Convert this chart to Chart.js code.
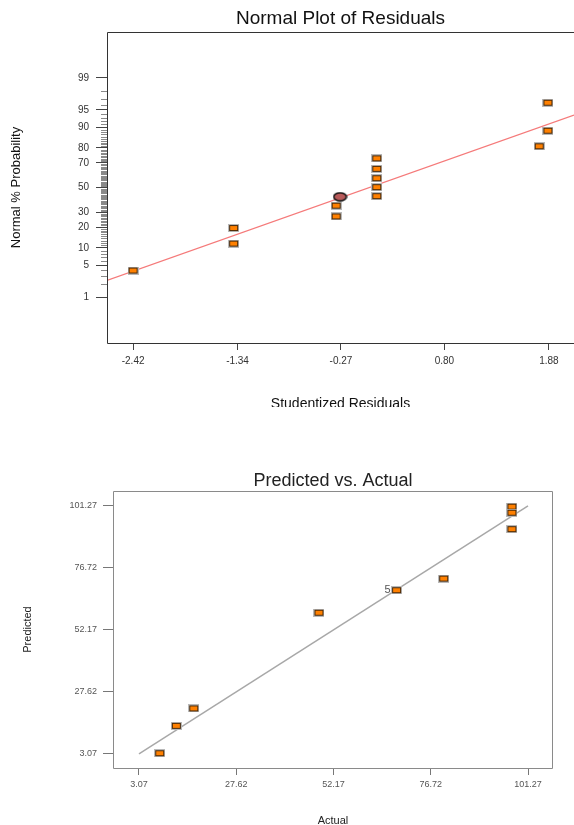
<!DOCTYPE html>
<html>
<head>
<meta charset="utf-8">
<script src="https://cdn.jsdelivr.net/npm/chart.js@4.4.1/dist/chart.umd.min.js"></script>
<style>
  body { margin: 0; background: #fff; width: 574px; height: 825px; position: relative; overflow: hidden; }
  .box { position: absolute; left: 0; width: 574px; overflow: hidden; }
  #topBox { top: 0; height: 407px; }
  #bottomBox { top: 420px; height: 405px; }
</style>
</head>
<body>
<div class="box" id="topBox"><canvas id="normalPlot" width="574" height="420"></canvas></div>
<div class="box" id="bottomBox"><canvas id="predPlot" width="574" height="420"></canvas></div>
<script>
// normal plot of residuals
const residuals = [-2.42, -1.38, -1.38, -0.32, -0.32, 0.10, 0.10, 0.10, 0.10, 0.10, 1.78, 1.87, 1.87];
const normalProb = [3.9, 11.7, 19.5, 27.0, 35.0, 42.7, 50.3, 57.8, 65.4, 73.2, 80.9, 88.6, 96.4];
const markedResidual = [-0.28];
const markedProb = [42.2];
const fitResidual = [-2.69, 2.14];
const fitProb = [2.42, 93.8];
const probTicks = [1, 5, 10, 20, 30, 50, 70, 80, 90, 95, 99];
const residualTicks = [-2.42, -1.34, -0.27, 0.80, 1.88];

// predicted vs actual
const actual = [8.3, 12.5, 16.9, 48.5, 68.1, 80.0, 97.2, 97.2, 97.2];
const predicted = [3.35, 14.2, 21.1, 59.0, 67.9, 72.5, 101.0, 98.6, 92.1];
const pointCounts = [1, 1, 1, 1, 5, 1, 1, 1, 1];
const fitActual = [3.07, 101.27];
const fitPredicted = [3.07, 101.27];
const pvaTicks = [3.07, 27.62, 52.17, 76.72, 101.27];

const FONT = "'Liberation Sans', Arial, sans-serif";

// inverse normal cdf (Acklam)
function probit(pct) {
  const p = pct / 100;
  const a = [-39.69683028665376, 220.9460984245205, -275.9285104469687, 138.357751867269, -30.66479806614716, 2.506628277459239];
  const b = [-54.47609879822406, 161.5858368580409, -155.6989798598866, 66.80131188771972, -13.28068155288572];
  const c = [-0.007784894002430293, -0.3223964580411365, -2.400758277161838, -2.549732539343734, 4.374664141464968, 2.938163982698783];
  const d = [0.007784695709041462, 0.3224671290700398, 2.445134137142996, 3.754408661907416];
  const lo = 0.02425;
  if (p < lo || p > 1 - lo) {
    const q = Math.sqrt(-2 * Math.log(p < lo ? p : 1 - p));
    const v = (((((c[0] * q + c[1]) * q + c[2]) * q + c[3]) * q + c[4]) * q + c[5]) /
      ((((d[0] * q + d[1]) * q + d[2]) * q + d[3]) * q + 1);
    return p < lo ? v : -v;
  }
  const q = p - 0.5, r = q * q;
  return (((((a[0] * r + a[1]) * r + a[2]) * r + a[3]) * r + a[4]) * r + a[5]) * q /
    (((((b[0] * r + b[1]) * r + b[2]) * r + b[3]) * r + b[4]) * r + 1);
}

function rectMarker() {
  const c = document.createElement("canvas");
  c.width = 11; c.height = 8;
  const g = c.getContext("2d");
  g.fillStyle = "#b8b8b8"; g.fillRect(0, 0, 11, 8);
  g.fillStyle = "#4a2a08"; g.fillRect(1, 1, 9, 6);
  g.fillStyle = "#ff8000"; g.fillRect(2, 2, 7, 4);
  return c;
}

function ovalMarker() {
  const c = document.createElement("canvas");
  c.width = 15; c.height = 10;
  const g = c.getContext("2d");
  g.beginPath();
  g.ellipse(7.5, 5, 6.3, 4, 0, 0, Math.PI * 2);
  g.fillStyle = "#b85a5a"; g.fill();
  g.lineWidth = 1.6; g.strokeStyle = "#111"; g.stroke();
  return c;
}

const minorProb = [];
for (let p = 2; p <= 98; p++) if (!probTicks.includes(p)) minorProb.push(p);

// keep the plot box where the reference has it
function noPad(s) { s.paddingLeft = 0; s.paddingRight = 0; s.paddingTop = 0; s.paddingBottom = 0; }

const framePlugin = {
  id: "frame",
  afterDraw(chart, args, opts) {
    const { ctx, chartArea: a } = chart;
    ctx.save();
    ctx.strokeStyle = opts.color;
    ctx.lineWidth = 1;
    ctx.beginPath();
    const l = Math.round(a.left) + 0.5, t = Math.round(a.top) + 0.5;
    const r = Math.round(a.right) - 0.5, b = Math.round(a.bottom) + 0.5;
    ctx.moveTo(l, b); ctx.lineTo(l, t); ctx.lineTo(opts.openRight ? chart.width : r, t);
    if (!opts.openRight) ctx.lineTo(r, b);
    ctx.moveTo(l, b); ctx.lineTo(opts.openRight ? chart.width : r, b);
    ctx.stroke();
    ctx.restore();
  }
};

const minorTickPlugin = {
  id: "minorTicks",
  afterDraw(chart) {
    const { ctx, chartArea: a } = chart;
    const y = chart.scales.y;
    ctx.save();
    ctx.strokeStyle = "#8a8a8a";
    ctx.lineWidth = 1;
    ctx.beginPath();
    minorProb.forEach(p => {
      const py = Math.round(y.getPixelForValue(probit(p))) + 0.5;
      ctx.moveTo(a.left - 6, py); ctx.lineTo(a.left, py);
    });
    ctx.stroke();
    ctx.restore();
  }
};

const countLabelPlugin = {
  id: "countLabels",
  afterDatasetsDraw(chart) {
    const { ctx } = chart;
    const x = chart.scales.x, y = chart.scales.y;
    ctx.save();
    ctx.font = "11px " + FONT;
    ctx.fillStyle = "#555";
    ctx.textAlign = "right";
    ctx.textBaseline = "middle";
    pointCounts.forEach((n, i) => {
      if (n > 1) ctx.fillText(String(n), x.getPixelForValue(actual[i]) - 6, y.getPixelForValue(predicted[i]));
    });
    ctx.restore();
  }
};

Chart.defaults.font.family = FONT;
Chart.defaults.animation = false;

const marker = rectMarker();

new Chart(document.getElementById("normalPlot"), {
  type: "scatter",
  data: {
    datasets: [
      {
        data: residuals.map((r, i) => ({ x: r, y: probit(normalProb[i]) })),
        pointStyle: marker, pointRadius: 5, order: 1
      },
      {
        data: markedResidual.map((r, i) => ({ x: r, y: probit(markedProb[i]) })),
        pointStyle: ovalMarker(), pointRadius: 6, order: 0
      },
      {
        data: fitResidual.map((r, i) => ({ x: r, y: probit(fitProb[i]) })),
        showLine: true, pointRadius: 0, borderColor: "#f57a7a", borderWidth: 1.2, order: 3
      }
    ]
  },
  options: {
    responsive: false,
    layout: { padding: 0, autoPadding: false },
    plugins: {
      legend: { display: false },
      tooltip: { enabled: false },
      title: {
        display: true, text: "Normal Plot of Residuals", fullSize: false,
        color: "#111", font: { size: 19, weight: "normal" }, padding: { top: 7.4, bottom: 1.8 }
      },
      frame: { color: "#333", openRight: true }
    },
    scales: {
      x: {
        type: "linear", min: -2.69, max: 2.14,
        afterBuildTicks: s => { s.ticks = residualTicks.map(v => ({ value: v })); },
        afterFit: s => { s.height = 77; noPad(s); },
        ticks: { autoSkip: false, maxRotation: 0, padding: 5, color: "#333", font: { size: 10 },
          callback: (v, i) => residualTicks[i].toFixed(2) },
        grid: { drawOnChartArea: false, tickLength: 7, tickColor: "#444" },
        border: { display: false },
        title: { display: true, text: "Studentized Residuals", color: "#111", font: { size: 14 }, padding: { bottom: 7.6 } }
      },
      y: {
        type: "linear", min: -3.3, max: 3.3,
        afterBuildTicks: s => { s.ticks = probTicks.map(p => ({ value: probit(p) })); },
        afterFit: s => { s.width = 107; noPad(s); },
        ticks: { autoSkip: false, padding: 7, color: "#333", font: { size: 10 },
          callback: (v, i) => String(probTicks[i]) },
        grid: { drawOnChartArea: false, tickLength: 11, tickColor: "#444" },
        border: { display: false },
        title: { display: true, text: "Normal % Probability", color: "#111", font: { size: 13 }, padding: { top: 9 } }
      }
    }
  },
  plugins: [framePlugin, minorTickPlugin]
});

new Chart(document.getElementById("predPlot"), {
  type: "scatter",
  data: {
    datasets: [
      {
        data: actual.map((a, i) => ({ x: a, y: predicted[i] })),
        pointStyle: marker, pointRadius: 5, order: 1
      },
      {
        data: fitActual.map((a, i) => ({ x: a, y: fitPredicted[i] })),
        showLine: true, pointRadius: 0, borderColor: "#a8a8a8", borderWidth: 1.5, order: 2
      }
    ]
  },
  options: {
    responsive: false,
    layout: { padding: { top: 0, right: 21, left: 0, bottom: 0 }, autoPadding: false },
    plugins: {
      legend: { display: false },
      tooltip: { enabled: false },
      title: {
        display: true, text: "Predicted vs. Actual", fullSize: false,
        color: "#222", font: { size: 18, weight: "normal" }, padding: { top: 50.2, bottom: -0.8 }
      },
      frame: { color: "#8a8a8a", openRight: false }
    },
    scales: {
      x: {
        type: "linear", min: -3.49, max: 107.58,
        afterBuildTicks: s => { s.ticks = pvaTicks.map(v => ({ value: v })); },
        afterFit: s => { s.height = 72; noPad(s); },
        ticks: { autoSkip: false, maxRotation: 0, padding: 4.6, color: "#555", font: { size: 9 },
          callback: (v, i) => pvaTicks[i].toFixed(2) },
        grid: { drawOnChartArea: false, tickLength: 7, tickColor: "#777" },
        border: { display: false },
        title: { display: true, text: "Actual", color: "#222", font: { size: 11 }, padding: { bottom: 12.4 } }
      },
      y: {
        type: "linear", min: -2.5, max: 107.2,
        afterBuildTicks: s => { s.ticks = pvaTicks.map(v => ({ value: v })); },
        afterFit: s => { s.width = 113; noPad(s); },
        ticks: { autoSkip: false, padding: 6, color: "#555", font: { size: 9 },
          callback: (v, i) => pvaTicks[i].toFixed(2) },
        grid: { drawOnChartArea: false, tickLength: 10, tickColor: "#777" },
        border: { display: false },
        title: { display: true, text: "Predicted", color: "#222", font: { size: 11 }, padding: { top: 21.4 } }
      }
    }
  },
  plugins: [framePlugin, countLabelPlugin]
});
</script>
</body>
</html>
